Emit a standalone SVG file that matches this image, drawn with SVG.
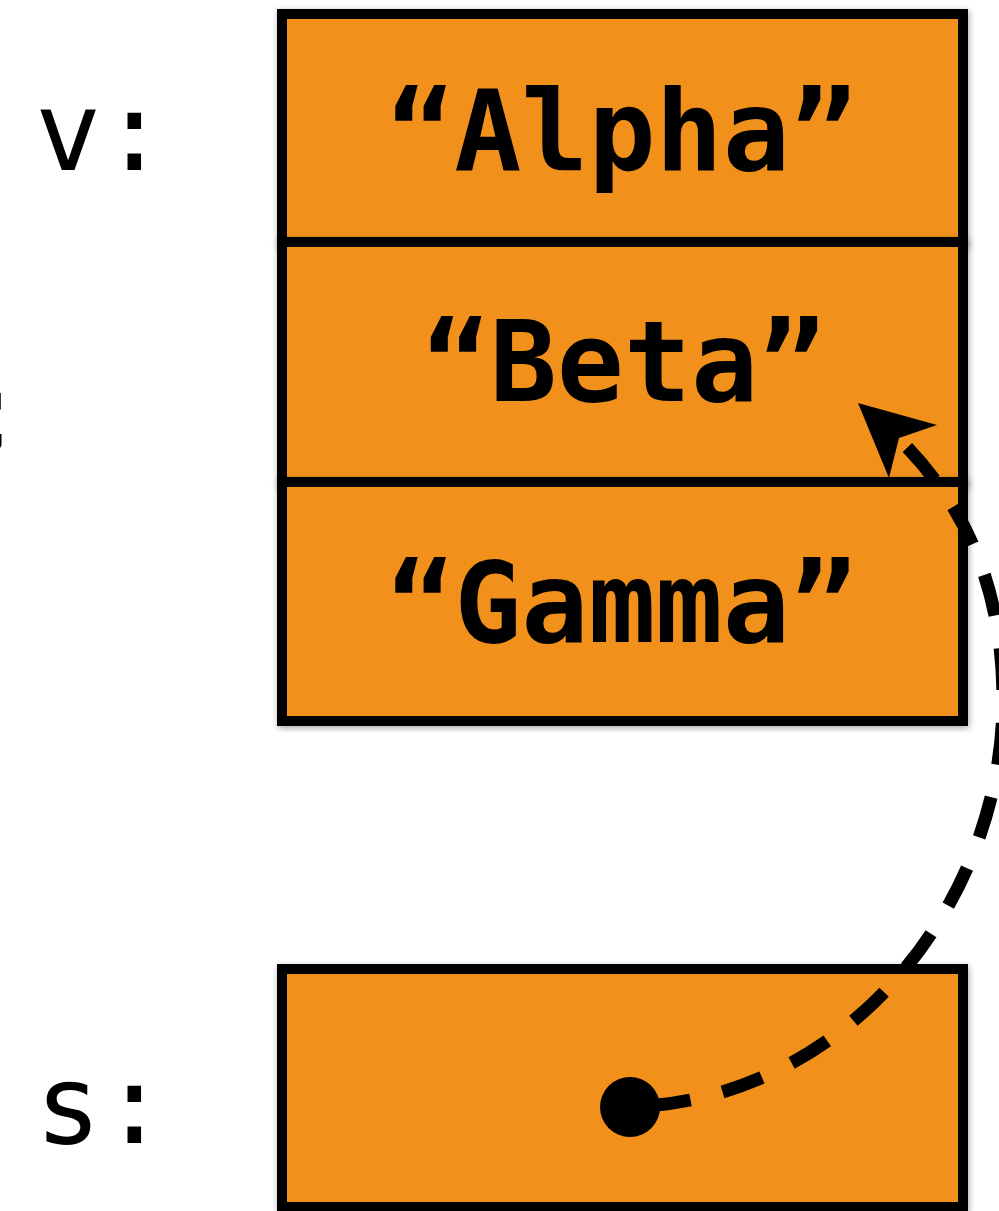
<svg xmlns="http://www.w3.org/2000/svg" width="999" height="1211" viewBox="0 0 999 1211">
<style>
.box{fill:#F2901B;stroke:#000;stroke-width:10;filter:url(#sh)}
.val{font-family:"DejaVu Sans Mono",monospace;font-weight:bold;font-size:111.5px;fill:#000;text-anchor:middle}
.lbl{font-family:"DejaVu Sans Mono",monospace;font-size:110px;fill:#000}
.conn{fill:none;stroke:#000;stroke-width:13;stroke-dasharray:42 33;stroke-dashoffset:56}
</style>
<defs>
<filter id="sh" x="-5%" y="-5%" width="110%" height="110%">
<feDropShadow dx="1" dy="2" stdDeviation="3" flood-color="#000" flood-opacity="0.35"/>
</filter>
</defs>
<text class="lbl" x="-39" y="450">;</text>
<g id="label-v"><text class="lbl" x="35" y="170">v:</text></g>
<g id="label-s"><text class="lbl" x="35" y="1143">s:</text></g>
<g id="node-alpha"><rect class="box" x="282" y="14" width="681" height="228"/><text class="val" x="622" y="170">“Alpha”</text></g>
<g id="node-beta"><rect class="box" x="282" y="242" width="681" height="240"/><text class="val" x="624" y="401">“Beta”</text></g>
<g id="node-gamma"><rect class="box" x="282" y="482" width="681" height="239"/><text class="val" x="622" y="642">“Gamma”</text></g>
<g id="node-s"><rect class="box" x="282" y="969" width="681" height="238"/></g>
<g id="connectors">
<path class="conn" d="M630,1107 C850,1100 1003,900 1003,700 C1003,580 960,500 900,440"/>
<polygon points="858,403 937,425 899,438 889,478" fill="#000"/>
<circle cx="630" cy="1107" r="30" fill="#000"/>
</g>
</svg>
